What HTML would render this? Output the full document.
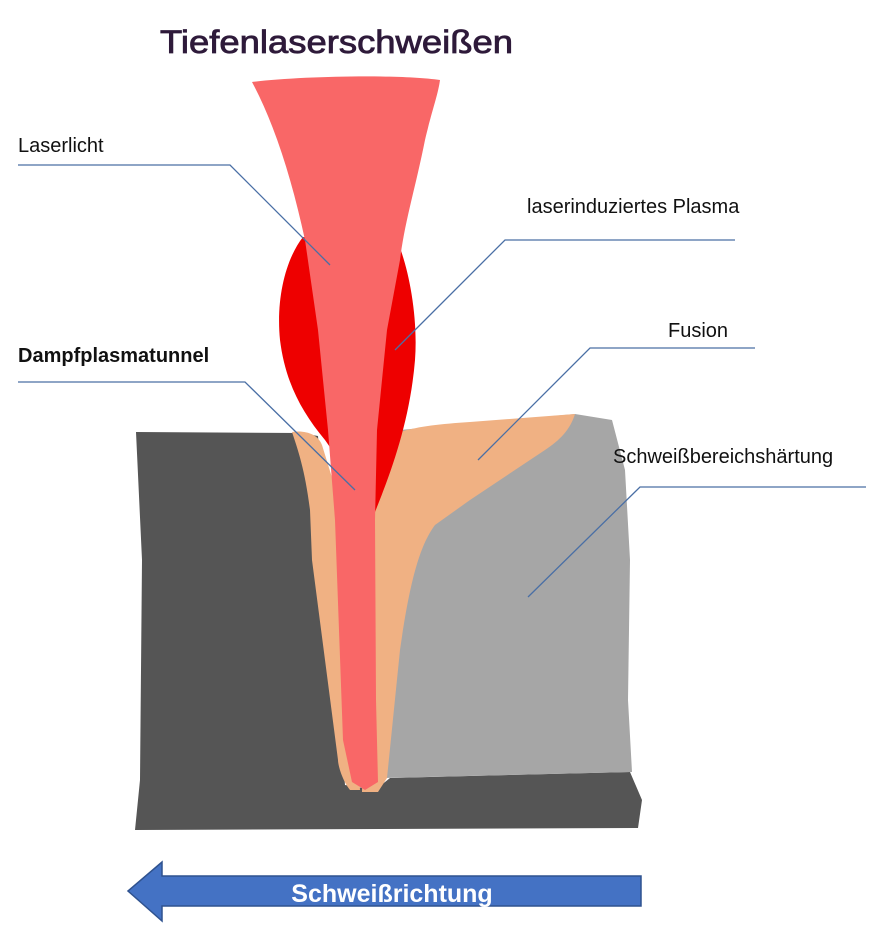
<!DOCTYPE html>
<html><head><meta charset="utf-8"><style>
html,body{margin:0;padding:0;background:#fff;width:870px;height:933px;overflow:hidden}
svg{display:block}
text{font-family:"Liberation Sans","DejaVu Sans",sans-serif}
</style></head><body>
<svg width="870" height="933" viewBox="0 0 870 933" xmlns="http://www.w3.org/2000/svg">
<rect width="870" height="933" fill="#fff"/>
<text x="160" y="53" font-size="32" fill="#2e1a3a" stroke="#2e1a3a" stroke-width="0.8" textLength="353" lengthAdjust="spacingAndGlyphs">Tiefenlaserschweißen</text>
<!-- dark base -->
<path d="M136,432 L300,433 L318,436 L345,785 L375,790 L390,778 L630,772 L642,800 L638,828 L135,830 L140,780 L142,560 Z" fill="#555555"/>
<!-- gray -->
<path d="M400,430 L575,414 L612,420 L625,470 L630,560 L628,700 L632,772 L385,778 L395,560 Z" fill="#a6a6a6"/>
<!-- orange left -->
<path d="M292,432 C305,430 318,434 322,445 L345,520 L360,790 L350,790 C342,780 338,765 338,760 L312,560 L310,510 C305,470 298,450 292,432 Z" fill="#f0b183"/>
<!-- orange right -->
<path d="M370,500 L400,432 C420,426 440,424 470,422 L575,414 C570,430 560,440 545,450 L470,500 L435,525 C420,545 410,580 400,650 L387,778 L378,792 L362,792 Z" fill="#f0b183"/>
<!-- red plasma -->
<path d="M303,237 C285,260 276,300 280,340 C285,380 300,410 325,440 L375,512 C392,470 410,420 415,360 C418,320 410,275 400,248 Z" fill="#ee0000"/>
<!-- laser cone -->
<path d="M252,82 C300,76 400,74 440,80 C438,95 432,110 425,140 C415,190 405,220 400,260 L387,330 L377,430 L375,520 L376,700 L378,782 L365,790 L352,782 L343,740 L335,520 L328,430 L318,330 L305,240 C292,180 275,125 252,82 Z" fill="#f96767"/>
<!-- leader lines -->
<g stroke="#4a6fa5" stroke-width="1.3" fill="none">
<polyline points="18,165 230,165 330,265"/>
<polyline points="735,240 505,240 395,350"/>
<polyline points="755,348 590,348 478,460"/>
<polyline points="18,382 245,382 355,490"/>
<polyline points="866,487 640,487 528,597"/>
</g>
<g font-size="20" fill="#111">
<text x="18" y="152">Laserlicht</text>
<text x="527" y="213">laserinduziertes Plasma</text>
<text x="668" y="337">Fusion</text>
<text x="18" y="362" font-weight="bold">Dampfplasmatunnel</text>
<text x="613" y="463">Schweißbereichshärtung</text>
</g>
<!-- arrow -->
<path d="M128,891 L162,862 L162,876 L641,876 L641,906 L162,906 L162,921 Z" fill="#4472c4" stroke="#2f528f" stroke-width="1.5"/>
<text x="392" y="902" font-size="25" font-weight="bold" fill="#fff" text-anchor="middle">Schweißrichtung</text>
</svg>
</body></html>
